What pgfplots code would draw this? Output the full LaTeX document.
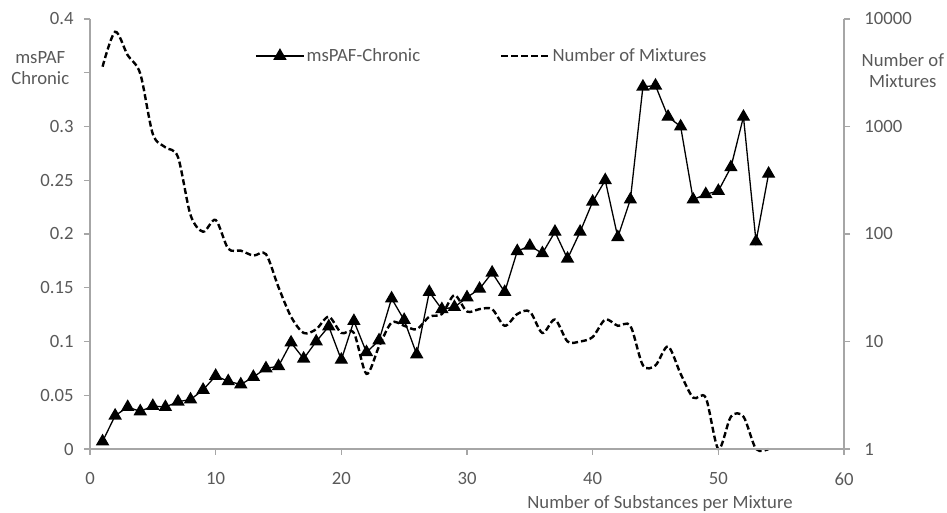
\documentclass[border=0pt]{standalone}
\usepackage{fontspec}
\setmainfont{Carlito}
\usepackage{pgfplots}
\usepackage{pgfplotstable}
\pgfplotsset{compat=1.18}

\definecolor{axgray}{HTML}{A6A6A6}
\definecolor{txtgray}{HTML}{595959}

% msPAF-Chronic per number of substances
\pgfplotstableread{
x y
1 0.007
2 0.031
3 0.039
4 0.035
5 0.040
6 0.039
7 0.044
8 0.046
9 0.055
10 0.068
11 0.063
12 0.060
13 0.067
14 0.075
15 0.077
16 0.099
17 0.084
18 0.100
19 0.114
20 0.083
21 0.119
22 0.090
23 0.101
24 0.140
25 0.120
26 0.088
27 0.146
28 0.130
29 0.132
30 0.141
31 0.149
32 0.164
33 0.146
34 0.184
35 0.189
36 0.182
37 0.202
38 0.177
39 0.202
40 0.230
41 0.250
42 0.197
43 0.232
44 0.337
45 0.338
46 0.309
47 0.300
48 0.232
49 0.237
50 0.240
51 0.262
52 0.309
53 0.193
54 0.256
}\paftable

% number of mixtures (log axis)
\pgfplotstableread{
x n
1 3600
2 7600
3 4600
4 3100
5 850
6 640
7 520
8 150
9 105
10 135
11 73
12 70
13 63
14 65
15 32
16 17
17 12
18 13
19 17
20 12
21 12
22 5
23 9
24 15
25 14
26 13
27 17
28 18
29 27
30 19
31 20
32 20
33 14
34 18
35 19
36 12
37 16
38 10
39 10
40 11
41 16
42 14
43 14
44 6
45 6
46 9
47 5
48 3
49 3
50 1
51 2
52 2
53 1
54 1
}\mixtable

\newcommand{\chartfont}{\fontsize{18.7pt}{21pt}\selectfont}

\begin{document}
\chartfont
\begin{tikzpicture}
\pgfplotsset{
  every axis/.append style={
    scale only axis, width=754pt, height=430pt,
    xmin=0, xmax=60,
    axis line style={axgray, line width=1.6pt, -},
    tick style={axgray, line width=1.2pt},
    tick align=outside, major tick length=6pt,
    ticklabel style={text=txtgray, font=\chartfont},
    label style={text=txtgray, font=\chartfont},
    /pgf/number format/assume math mode=true,
  },
}

% right axis: number of mixtures
\begin{axis}[
  at={(0,0)}, anchor=south west,
  ymode=log, ymin=1, ymax=10000,
  axis x line=none,
  axis y line*=right,
  clip=false,
  ytick={1,10,100,1000,10000},
  yticklabels={1,10,100,1000,10000},
  yticklabel style={xshift=8pt},
  yminorticks=false,
  ylabel={Number of\\Mixtures},
  ylabel style={rotate=-90, align=center, at={(axis description cs:1.078,0.879)}, anchor=center},
]
\addplot[black, line width=2.4pt, dash pattern=on 6pt off 3pt, smooth] table[x=x, y=n] {\mixtable};
\end{axis}

% left axis: msPAF
\begin{axis}[
  at={(0,0)}, anchor=south west,
  ymin=0, ymax=0.4,
  axis x line*=bottom,
  axis y line*=left,
  xtick={0,10,20,30,40,50,60},
  ytick={0,0.05,0.1,0.15,0.2,0.25,0.3,0.35,0.4},
  yticklabels={0,0.05,0.1,0.15,0.2,0.25,0.3,,0.4},
  xticklabel style={yshift=-11pt},
  yticklabel style={xshift=-4pt},
  clip mode=individual,
  xlabel={Number of Substances per Mixture},
  xlabel style={at={(axis description cs:0.756,-0.126)}, anchor=center},
  ylabel={msPAF\\Chronic},
  ylabel style={rotate=-90, align=center, at={(axis description cs:-0.066,0.886)}, anchor=center},
  legend columns=2,
  legend style={draw=none, fill=none, text=txtgray, font=\chartfont,
    at={(axis description cs:0.215,0.914)}, anchor=west,
    /tikz/every even column/.append style={column sep=78pt}},
  legend image code/.code={\draw[mark repeat=2, mark phase=2, #1] plot coordinates {(0pt,0pt) (24pt,0pt) (48pt,0pt)};},
]
\addplot[black, line width=1.3pt, mark=triangle*, mark size=6.5pt, mark options={solid}] table[x=x, y=y] {\paftable};
\addlegendentry{msPAF-Chronic}
\addlegendimage{black, line width=2.4pt, dash pattern=on 7pt off 3pt}
\addlegendentry{Number of Mixtures}
\end{axis}

\pgfresetboundingbox
\path (-90pt,-64pt) rectangle (857pt,449pt);
\end{tikzpicture}
\end{document}
